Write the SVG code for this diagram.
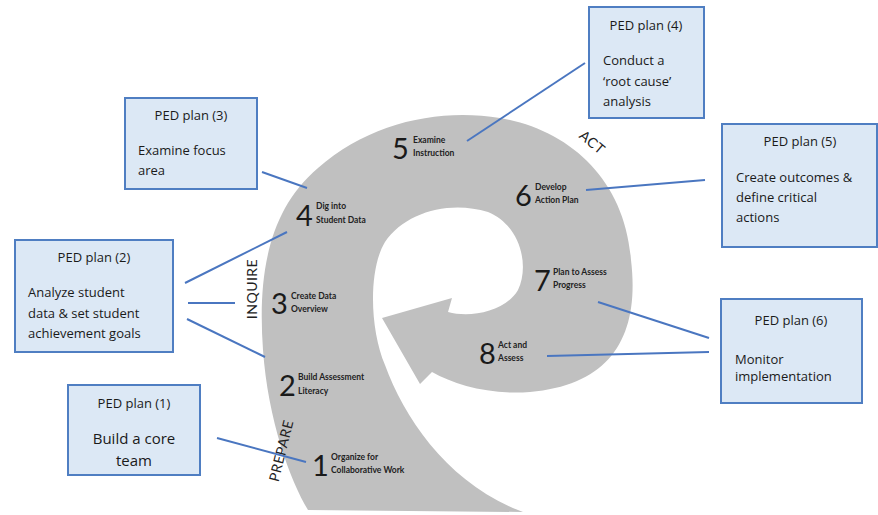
<svg xmlns="http://www.w3.org/2000/svg" width="878" height="515" viewBox="0 0 878 515">
<style>
.box{fill:#dce8f5;stroke:#4f7ec2;stroke-width:2}
.bt{font-family:"Open Sans","Noto Sans",sans-serif;font-size:13px;fill:#1a1a1a}
.conn line{stroke:#4a76c0;stroke-width:2}
.num{font-family:Lato,"Liberation Sans",sans-serif;font-size:29px;fill:#1a1a1a}
.st{font-family:Lato,"Liberation Sans",sans-serif;font-size:8.5px;font-weight:bold;fill:#222}
.ph{font-family:Lato,"Liberation Sans",sans-serif;font-size:14px;fill:#222;letter-spacing:0.5px}
</style>
<rect width="878" height="515" fill="#fff"/>
<g id="spiral">
<path fill="#c0c0c0" d="M308,510 C290,480 268,420 263,350 C258,280 266,212 318,168 C370,122 440,108 500,118 C570,130 625,180 631,260 C640,335 612,385 530,392 C490,395 455,385 432,372 L420,384 L382,318 L452,298 L448,312 C470,318 505,312 518,290 C530,265 520,225 488,212 C450,200 405,212 385,242 C368,270 370,330 385,365 C405,420 450,485 523,512 Z"/>
<text class="ph" transform="translate(257,289) rotate(-90)" text-anchor="middle">INQUIRE</text>
<text class="ph" transform="translate(286,452) rotate(-76)" text-anchor="middle">PREPARE</text>
<text class="ph" transform="translate(589,146) rotate(40)" text-anchor="middle">ACT</text>
</g>
<g id="step1"><text class="num" x="312" y="476">1</text><text class="st" x="331" y="460">Organize for</text><text class="st" x="331" y="473">Collaborative Work</text></g>
<g id="step2"><text class="num" x="279" y="396">2</text><text class="st" x="298" y="380">Build Assessment</text><text class="st" x="298" y="394">Literacy</text></g>
<g id="step3"><text class="num" x="271" y="314">3</text><text class="st" x="291" y="299">Create Data</text><text class="st" x="291" y="312">Overview</text></g>
<g id="step4"><text class="num" x="296" y="226">4</text><text class="st" x="316" y="209">Dig into</text><text class="st" x="316" y="223">Student Data</text></g>
<g id="step5"><text class="num" x="392" y="159">5</text><text class="st" x="413" y="143">Examine</text><text class="st" x="413" y="156">Instruction</text></g>
<g id="step6"><text class="num" x="515" y="206">6</text><text class="st" x="535" y="190">Develop</text><text class="st" x="535" y="203">Action Plan</text></g>
<g id="step7"><text class="num" x="534" y="291">7</text><text class="st" x="553" y="275">Plan to Assess</text><text class="st" x="553" y="288">Progress</text></g>
<g id="step8"><text class="num" x="479" y="364">8</text><text class="st" x="498" y="348">Act and</text><text class="st" x="498" y="361">Assess</text></g>
<g class="conn" id="connectors">
<line x1="262" y1="172" x2="307" y2="188"/>
<line x1="185" y1="283" x2="287" y2="232"/>
<line x1="188" y1="303" x2="235" y2="303"/>
<line x1="187" y1="319" x2="265" y2="357"/>
<line x1="585" y1="63" x2="467" y2="141"/>
<line x1="705" y1="180" x2="586" y2="190"/>
<line x1="709" y1="338" x2="598" y2="302"/>
<line x1="709" y1="352" x2="547" y2="356"/>
<line x1="217" y1="438" x2="306" y2="462"/>
</g>
<g id="ped1"><rect class="box" x="68" y="385" width="132" height="90"/><text class="bt" x="134" y="408" text-anchor="middle">PED plan (1)</text><text class="bt" x="134" y="444" text-anchor="middle" style="font-size:15px">Build a core</text><text class="bt" x="134" y="466" text-anchor="middle" style="font-size:15px">team</text></g>
<g id="ped2"><rect class="box" x="15" y="240" width="158" height="112"/><text class="bt" x="94" y="262" text-anchor="middle">PED plan (2)</text><text class="bt" x="28" y="297">Analyze student</text><text class="bt" x="28" y="318">data &amp; set student</text><text class="bt" x="28" y="338">achievement goals</text></g>
<g id="ped3"><rect class="box" x="125" y="98" width="132" height="91"/><text class="bt" x="191" y="120" text-anchor="middle">PED plan (3)</text><text class="bt" x="138" y="155">Examine focus</text><text class="bt" x="138" y="175">area</text></g>
<g id="ped4"><rect class="box" x="589" y="7" width="115" height="111"/><text class="bt" x="646" y="30" text-anchor="middle">PED plan (4)</text><text class="bt" x="603" y="65">Conduct a</text><text class="bt" x="603" y="86">‘root cause’</text><text class="bt" x="603" y="106">analysis</text></g>
<g id="ped5"><rect class="box" x="722" y="124" width="155" height="123"/><text class="bt" x="800" y="146" text-anchor="middle">PED plan (5)</text><text class="bt" x="736" y="182">Create outcomes &amp;</text><text class="bt" x="736" y="202">define critical</text><text class="bt" x="736" y="222">actions</text></g>
<g id="ped6"><rect class="box" x="721" y="299" width="141" height="104"/><text class="bt" x="791" y="325" text-anchor="middle">PED plan (6)</text><text class="bt" x="735" y="364">Monitor</text><text class="bt" x="735" y="381">implementation</text></g>
</svg>
